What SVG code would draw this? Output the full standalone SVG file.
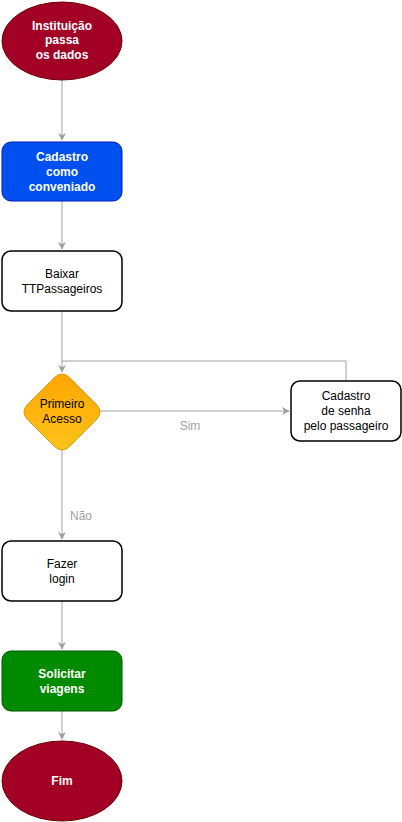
<svg xmlns="http://www.w3.org/2000/svg" width="402" height="822" viewBox="0 0 402 822">
<style>
text{font-family:"Liberation Sans",Arial,sans-serif;font-size:12px;text-anchor:middle}
.w{fill:#ffffff;font-weight:bold}
.b{fill:#000000}
.lbl{fill:#a0a0a0}
.box{fill:#ffffff;stroke:#000000;stroke-width:1.5}
.edge{fill:none;stroke:#a0a0a0;stroke-width:1}
</style>
<defs>
<marker id="arr" viewBox="0 0 10 10" refX="9" refY="5" markerWidth="8" markerHeight="8" markerUnits="userSpaceOnUse" orient="auto">
<path d="M0,0 L10,5 L0,10 L3,5 Z" fill="#a0a0a0"/>
</marker>
<linearGradient id="og" x1="0" y1="0" x2="0" y2="1">
<stop offset="0" stop-color="#ffa500"/>
<stop offset="1" stop-color="#ffc41a"/>
</linearGradient>
</defs>
<g id="connectors">
<path class="edge" d="M62,80 V140" marker-end="url(#arr)"/>
<path class="edge" d="M62,201 V249" marker-end="url(#arr)"/>
<path class="edge" d="M62,311 V372" marker-end="url(#arr)"/>
<path class="edge" d="M100,411 H289" marker-end="url(#arr)"/>
<path class="edge" d="M346,381 V361 H62" />
<path class="edge" d="M62,450 V539" marker-end="url(#arr)"/>
<path class="edge" d="M62,601 V649" marker-end="url(#arr)"/>
<path class="edge" d="M62,711 V739" marker-end="url(#arr)"/>
<text class="lbl" x="190" y="430">Sim</text>
<text class="lbl" x="81" y="520">Não</text>
</g>
<g id="inicio">
<ellipse cx="62" cy="41" rx="60" ry="39" fill="#a20025" stroke="#6f0000" stroke-width="1"/>
<text class="w" x="62" y="30">Instituição</text>
<text class="w" x="62" y="44">passa</text>
<text class="w" x="62" y="59">os dados</text>
</g>
<g id="cadastro-conveniado">
<rect x="2" y="142" width="120" height="59" rx="9" fill="#0050ef" stroke="#001dbc" stroke-width="1"/>
<text class="w" x="62" y="161">Cadastro</text>
<text class="w" x="62" y="176">como</text>
<text class="w" x="62" y="191">conveniado</text>
</g>
<g id="baixar">
<rect class="box" x="2" y="251" width="120" height="60" rx="9"/>
<text class="b" x="62" y="278">Baixar</text>
<text class="b" x="62" y="293">TTPassageiros</text>
</g>
<g id="primeiro-acesso">
<path d="M62,374 Q66,374 70,378 L96,404 Q100,408 100,412 Q100,416 96,420 L70,446 Q66,450 62,450 Q58,450 54,446 L28,420 Q24,416 24,412 Q24,408 28,404 L54,378 Q58,374 62,374 Z" fill="url(#og)" stroke="#d79b00" stroke-width="1"/>
<text class="b" x="62" y="408">Primeiro</text>
<text class="b" x="62" y="423">Acesso</text>
</g>
<g id="cadastro-senha">
<rect class="box" x="291" y="381" width="110" height="60" rx="9"/>
<text class="b" x="346" y="400">Cadastro</text>
<text class="b" x="346" y="415">de senha</text>
<text class="b" x="346" y="430">pelo passageiro</text>
</g>
<g id="login">
<rect class="box" x="2" y="541" width="120" height="60" rx="9"/>
<text class="b" x="62" y="568">Fazer</text>
<text class="b" x="62" y="583">login</text>
</g>
<g id="solicitar">
<rect x="2" y="651" width="120" height="60" rx="9" fill="#008a00" stroke="#005700" stroke-width="1"/>
<text class="w" x="62" y="678">Solicitar</text>
<text class="w" x="62" y="693">viagens</text>
</g>
<g id="fim">
<ellipse cx="62" cy="781" rx="60" ry="40" fill="#a20025" stroke="#6f0000" stroke-width="1"/>
<text class="w" x="62" y="785">Fim</text>
</g>
</svg>
